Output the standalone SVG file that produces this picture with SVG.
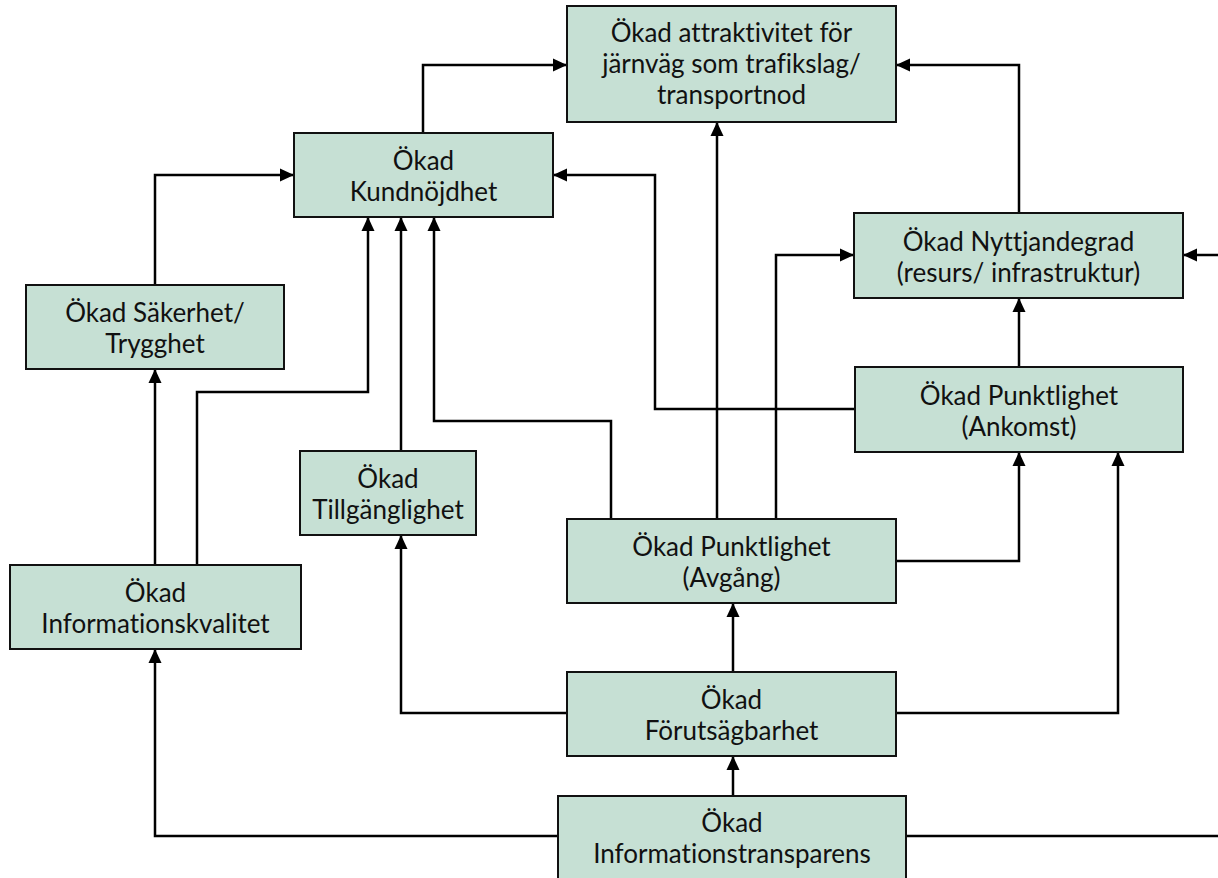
<svg xmlns="http://www.w3.org/2000/svg" width="1218" height="878" viewBox="0 0 1218 878">
<style>
.box{fill:#c6e0d4;stroke:#111;stroke-width:2}
.lbl{font-family:Lato,"Noto Sans",sans-serif;font-size:26px;fill:#111;text-anchor:middle;font-variant-ligatures:none}
.con{fill:none;stroke:#000;stroke-width:2.5}
</style>
<defs>
<marker id="arr" viewBox="0 0 14 14" refX="14" refY="7" markerWidth="14" markerHeight="14" markerUnits="userSpaceOnUse" orient="auto">
<path d="M0,0.5 L14,7 L0,13.5 Z" fill="#000"/>
</marker>
</defs>
<rect width="1218" height="878" fill="#fff"/>
<g id="connectors">
<path class="con" d="M423,133 V65 H567" marker-end="url(#arr)"/>
<path class="con" d="M1019,213 V65 H896" marker-end="url(#arr)"/>
<path class="con" d="M717,519 V122" marker-end="url(#arr)"/>
<path class="con" d="M155,285 V175 H294" marker-end="url(#arr)"/>
<path class="con" d="M776,519 V255 H854" marker-end="url(#arr)"/>
<path class="con" d="M1218,255 H1183" marker-end="url(#arr)"/>
<path class="con" d="M855,409 H655 V175 H553" marker-end="url(#arr)"/>
<path class="con" d="M197,565 V392 H368 V217" marker-end="url(#arr)"/>
<path class="con" d="M401,451 V217" marker-end="url(#arr)"/>
<path class="con" d="M611,519 V421 H434 V217" marker-end="url(#arr)"/>
<path class="con" d="M155,565 V369" marker-end="url(#arr)"/>
<path class="con" d="M1019,367 V298" marker-end="url(#arr)"/>
<path class="con" d="M896,561 H1019 V452" marker-end="url(#arr)"/>
<path class="con" d="M733,672 V603" marker-end="url(#arr)"/>
<path class="con" d="M567,713 H401 V535" marker-end="url(#arr)"/>
<path class="con" d="M896,713 H1118 V452" marker-end="url(#arr)"/>
<path class="con" d="M733,796 V756" marker-end="url(#arr)"/>
<path class="con" d="M558,836 H155 V649" marker-end="url(#arr)"/>
<path class="con" d="M906,836 H1218"/>
</g>
<g id="n-attraktivitet">
<rect class="box" x="567" y="6" width="329" height="116"/>
<text class="lbl" x="731.5" y="42">Ökad attraktivitet för</text>
<text class="lbl" x="731.5" y="73">järnväg som trafikslag/</text>
<text class="lbl" x="731.5" y="104">transportnod</text>
</g>
<g id="n-kundnojdhet">
<rect class="box" x="294" y="133" width="259" height="84"/>
<text class="lbl" x="423.5" y="170">Ökad</text>
<text class="lbl" x="423.5" y="201">Kundnöjdhet</text>
</g>
<g id="n-nyttjandegrad">
<rect class="box" x="854" y="213" width="329" height="85"/>
<text class="lbl" x="1018.5" y="251">Ökad Nyttjandegrad</text>
<text class="lbl" x="1018.5" y="282">(resurs/ infrastruktur)</text>
</g>
<g id="n-sakerhet">
<rect class="box" x="26" y="285" width="258" height="84"/>
<text class="lbl" x="155" y="322">Ökad Säkerhet/</text>
<text class="lbl" x="155" y="353">Trygghet</text>
</g>
<g id="n-ankomst">
<rect class="box" x="855" y="367" width="328" height="85"/>
<text class="lbl" x="1019" y="405">Ökad Punktlighet</text>
<text class="lbl" x="1019" y="436">(Ankomst)</text>
</g>
<g id="n-tillganglighet">
<rect class="box" x="300" y="451" width="176" height="84"/>
<text class="lbl" x="388" y="488">Ökad</text>
<text class="lbl" x="388" y="519">Tillgänglighet</text>
</g>
<g id="n-avgang">
<rect class="box" x="567" y="519" width="329" height="84"/>
<text class="lbl" x="731.5" y="556">Ökad Punktlighet</text>
<text class="lbl" x="731.5" y="587">(Avgång)</text>
</g>
<g id="n-informationskvalitet">
<rect class="box" x="10" y="565" width="291" height="84"/>
<text class="lbl" x="155.5" y="602">Ökad</text>
<text class="lbl" x="155.5" y="633">Informationskvalitet</text>
</g>
<g id="n-forutsagbarhet">
<rect class="box" x="567" y="672" width="329" height="84"/>
<text class="lbl" x="731.5" y="709">Ökad</text>
<text class="lbl" x="731.5" y="740">Förutsägbarhet</text>
</g>
<g id="n-informationstransparens">
<rect class="box" x="558" y="796" width="348" height="84"/>
<text class="lbl" x="732" y="832">Ökad</text>
<text class="lbl" x="732" y="863">Informationstransparens</text>
</g>
</svg>
